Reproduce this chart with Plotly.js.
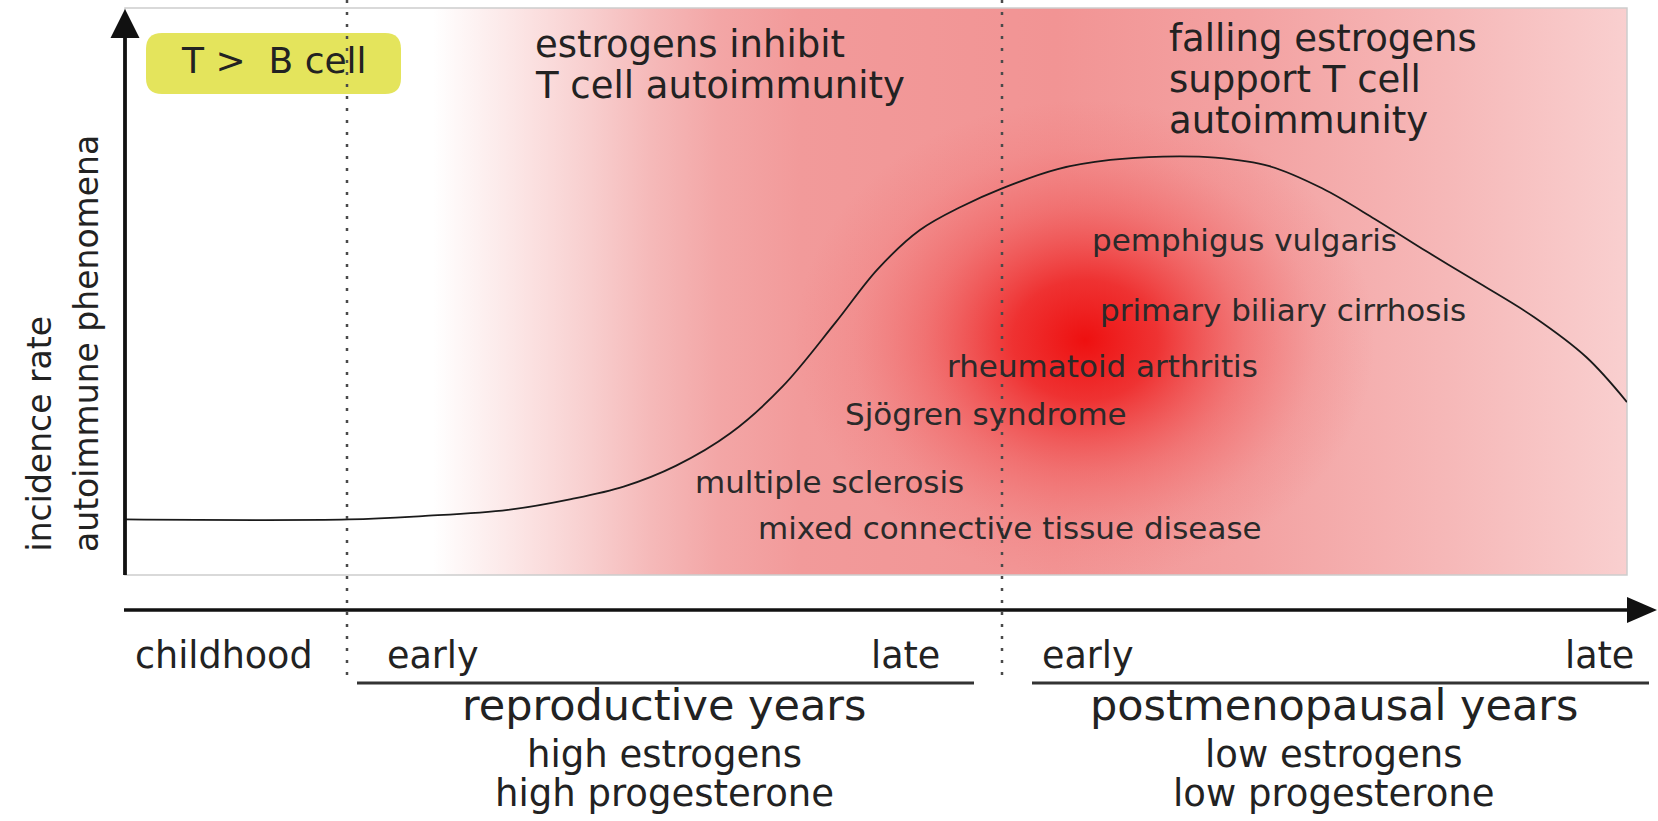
<!DOCTYPE html>
<html>
<head>
<meta charset="utf-8">
<script src="https://cdn.plot.ly/plotly-3.0.1.min.js"></script>
<style>
  html, body { margin: 0; padding: 0; background: #ffffff; }
  #chart { width: 1658px; height: 821px; }
</style>
</head>
<body>
<div id="chart"></div>
<script>
// ---------------- data ----------------
// life stage position (0 = left edge of the box, 100 = right edge)
const lifeStage = [0, 14.9, 19.8, 25.5, 29.7, 33.2, 36.7, 40.3, 43.8, 47.3, 50.1, 52.9, 55.7, 58.4, 62.1, 65.6, 69.1, 72.6, 76.2, 79.7, 83.2, 86.7, 90.2, 93.8, 97.3, 100];
// relative incidence rate of autoimmune phenomena
const incidenceRate = [9.8, 9.8, 10.4, 11.5, 13.4, 15.6, 19.3, 25.0, 33.3, 44.5, 53.9, 60.8, 65.0, 68.2, 71.6, 73.2, 73.8, 73.6, 72.1, 68.2, 62.8, 57.0, 51.4, 45.5, 38.4, 30.5];

const diseases = ["pemphigus vulgaris", "primary biliary cirrhosis", "rheumatoid arthritis", "Sjögren syndrome", "multiple sclerosis", "mixed connective tissue disease"];
const stageTicks = ["childhood", "early", "late", "early", "late"];
const periodNames = ["reproductive years", "postmenopausal years"];
const hormoneNotes = [["high estrogens", "high progesterone"], ["low estrogens", "low progesterone"]];
const topNotes = [["estrogens inhibit", "T cell autoimmunity"], ["falling estrogens", "support T cell", "autoimmunity"]];
const yTitleLines = ["incidence rate", "autoimmune phenomena"];
const badgeText = "T >\u00a0 B cell";

// ---------------- geometry helpers ----------------
const L = 125, T = 8, PW = 1502, PH = 567;
const px = x => (x - L) / PW;
const py = y => (T + PH - y) / PH;
const FONT = "DejaVu Sans";
const INK = "#222222";

function label(text, x, baseline, size, xanchor, extra) {
  return Object.assign({
    text: text, xref: "paper", yref: "paper",
    x: px(x), y: py(baseline - 0.346 * size),
    xanchor: xanchor, yanchor: "middle", showarrow: false,
    font: { family: FONT, size: size, color: INK }
  }, extra || {});
}

// ---------------- annotations ----------------
const annotations = [];
annotations.push(label(badgeText, 274, 73, 36, "center"));
const topPos = [{ x: 533, base: [57, 98] }, { x: 1167, base: [51, 92, 133] }];
topNotes.forEach((lines, i) => lines.forEach((t, j) => annotations.push(label(t, topPos[i].x, topPos[i].base[j], 37, "left"))));
const dPos = [[1090, 251], [1098, 321], [945, 377], [843, 425], [693, 493], [756, 539]];
diseases.forEach((d, i) => annotations.push(label(d, dPos[i][0], dPos[i][1], 31, "left", { font: { family: FONT, size: 31, color: "#2a2a2a" } })));
const tickPos = [[224, "center"], [385, "left"], [942, "right"], [1040, "left"], [1636, "right"]];
stageTicks.forEach((t, i) => annotations.push(label(t, tickPos[i][0], 668, 36.5, tickPos[i][1])));
const periodX = [664, 1334];
periodNames.forEach((p, i) => {
  annotations.push(label(p, periodX[i], 720, 43, "center"));
  annotations.push(label(hormoneNotes[i][0], periodX[i], 767, 37, "center"));
  annotations.push(label(hormoneNotes[i][1], periodX[i], 806, 37, "center"));
});
const yTitleX = [38.5, 86.5];
yTitleLines.forEach((t, i) => annotations.push({
  text: t, xref: "paper", yref: "paper", x: px(yTitleX[i]), y: py(554),
  xanchor: "center", yanchor: "bottom", textangle: -90, showarrow: false,
  font: { family: FONT, size: 33, color: INK }
}));

// ---------------- shapes ----------------
function roundRect(x0, y0, x1, y1, r) {
  const P = (x, y) => px(x) + "," + py(y);
  return "M " + P(x0 + r, y0) + " L " + P(x1 - r, y0) + " Q " + P(x1, y0) + " " + P(x1, y0 + r) +
    " L " + P(x1, y1 - r) + " Q " + P(x1, y1) + " " + P(x1 - r, y1) +
    " L " + P(x0 + r, y1) + " Q " + P(x0, y1) + " " + P(x0, y1 - r) +
    " L " + P(x0, y0 + r) + " Q " + P(x0, y0) + " " + P(x0 + r, y0) + " Z";
}
const shapes = [
  { type: "rect", xref: "paper", yref: "paper", x0: 0, x1: 1, y0: 0, y1: 1, line: { color: "#cdcdcd", width: 1.5 }, layer: "below" },
  { type: "path", xref: "paper", yref: "paper", path: roundRect(146, 33, 401, 94, 16), fillcolor: "#e4e45c", line: { width: 0 }, layer: "below" },
  { type: "line", xref: "paper", yref: "paper", x0: px(347), x1: px(347), y0: py(0), y1: py(677), line: { color: "#4a4a4a", width: 2.5, dash: "3px,9px" } },
  { type: "line", xref: "paper", yref: "paper", x0: px(1002), x1: px(1002), y0: py(0), y1: py(677), line: { color: "#4a4a4a", width: 2.5, dash: "3px,9px" } },
  { type: "line", xref: "paper", yref: "paper", x0: px(125), x1: px(125), y0: py(575), y1: py(32), line: { color: "#111111", width: 3.8 } },
  { type: "path", xref: "paper", yref: "paper", path: "M " + px(125) + "," + py(9) + " L " + px(139.5) + "," + py(38) + " L " + px(110.5) + "," + py(38) + " Z", fillcolor: "#111111", line: { width: 0 } },
  { type: "line", xref: "paper", yref: "paper", x0: px(124), x1: px(1632), y0: py(610), y1: py(610), line: { color: "#111111", width: 3.4 } },
  { type: "path", xref: "paper", yref: "paper", path: "M " + px(1657) + "," + py(610) + " L " + px(1627) + "," + py(597) + " L " + px(1627) + "," + py(623) + " Z", fillcolor: "#111111", line: { width: 0 } },
  { type: "line", xref: "paper", yref: "paper", x0: px(357), x1: px(974), y0: py(683), y1: py(683), line: { color: "#333333", width: 3 } },
  { type: "line", xref: "paper", yref: "paper", x0: px(1032), x1: px(1649), y0: py(683), y1: py(683), line: { color: "#333333", width: 3 } }
];

// ---------------- background gradient ----------------
const bgSvg = "<svg xmlns='http://www.w3.org/2000/svg' width='" + PW + "' height='" + PH + "' viewBox='0 0 " + PW + " " + PH + "' preserveAspectRatio='none'>" +
  "<defs>" +
  "<linearGradient id='h' x1='0' y1='0' x2='1' y2='0'>" +
  "<stop offset='0' stop-color='#ffffff'/>" +
  "<stop offset='0.205' stop-color='#ffffff'/>" +
  "<stop offset='0.27' stop-color='#fbe1e1'/>" +
  "<stop offset='0.31' stop-color='#f8cece'/>" +
  "<stop offset='0.35' stop-color='#f5b9b9'/>" +
  "<stop offset='0.395' stop-color='#f3a6a6'/>" +
  "<stop offset='0.45' stop-color='#f29a9a'/>" +
  "<stop offset='0.62' stop-color='#f29494'/>" +
  "<stop offset='0.75' stop-color='#f3a2a2'/>" +
  "<stop offset='0.88' stop-color='#f6b8b8'/>" +
  "<stop offset='1' stop-color='#f9cfcf'/>" +
  "</linearGradient>" +
  "<radialGradient id='r' gradientUnits='userSpaceOnUse' cx='0' cy='0' r='1' gradientTransform='translate(960 332) scale(290 240)'>" +
  "<stop offset='0' stop-color='#ee1010' stop-opacity='1'/>" +
  "<stop offset='0.25' stop-color='#ee2020' stop-opacity='0.85'/>" +
  "<stop offset='0.55' stop-color='#ef4444' stop-opacity='0.45'/>" +
  "<stop offset='0.8' stop-color='#f05a5a' stop-opacity='0.15'/>" +
  "<stop offset='1' stop-color='#f06060' stop-opacity='0'/>" +
  "</radialGradient>" +
  "</defs>" +
  "<rect width='" + PW + "' height='" + PH + "' fill='url(#h)'/>" +
  "<rect width='" + PW + "' height='" + PH + "' fill='url(#r)'/>" +
  "</svg>";

const images = [{
  source: "data:image/svg+xml;charset=utf-8," + encodeURIComponent(bgSvg),
  xref: "paper", yref: "paper", x: 0, y: 1, sizex: 1, sizey: 1,
  xanchor: "left", yanchor: "top", sizing: "stretch", layer: "below"
}];

// ---------------- trace ----------------
const trace = {
  type: "scatter", mode: "lines",
  x: lifeStage, y: incidenceRate,
  line: { color: "#1a1a1a", width: 1.8, shape: "spline", smoothing: 1 },
  hoverinfo: "skip", cliponaxis: false
};

const layout = {
  width: 1658, height: 821,
  margin: { l: L, r: 1658 - L - PW, t: T, b: 821 - T - PH, pad: 0 },
  paper_bgcolor: "#ffffff", plot_bgcolor: "rgba(0,0,0,0)",
  showlegend: false,
  xaxis: { range: [0, 100], visible: false, fixedrange: true },
  yaxis: { range: [0, 100], visible: false, fixedrange: true },
  annotations: annotations, shapes: shapes, images: images
};

Plotly.newPlot("chart", [trace], layout, { staticPlot: true, displayModeBar: false });
</script>
</body>
</html>
